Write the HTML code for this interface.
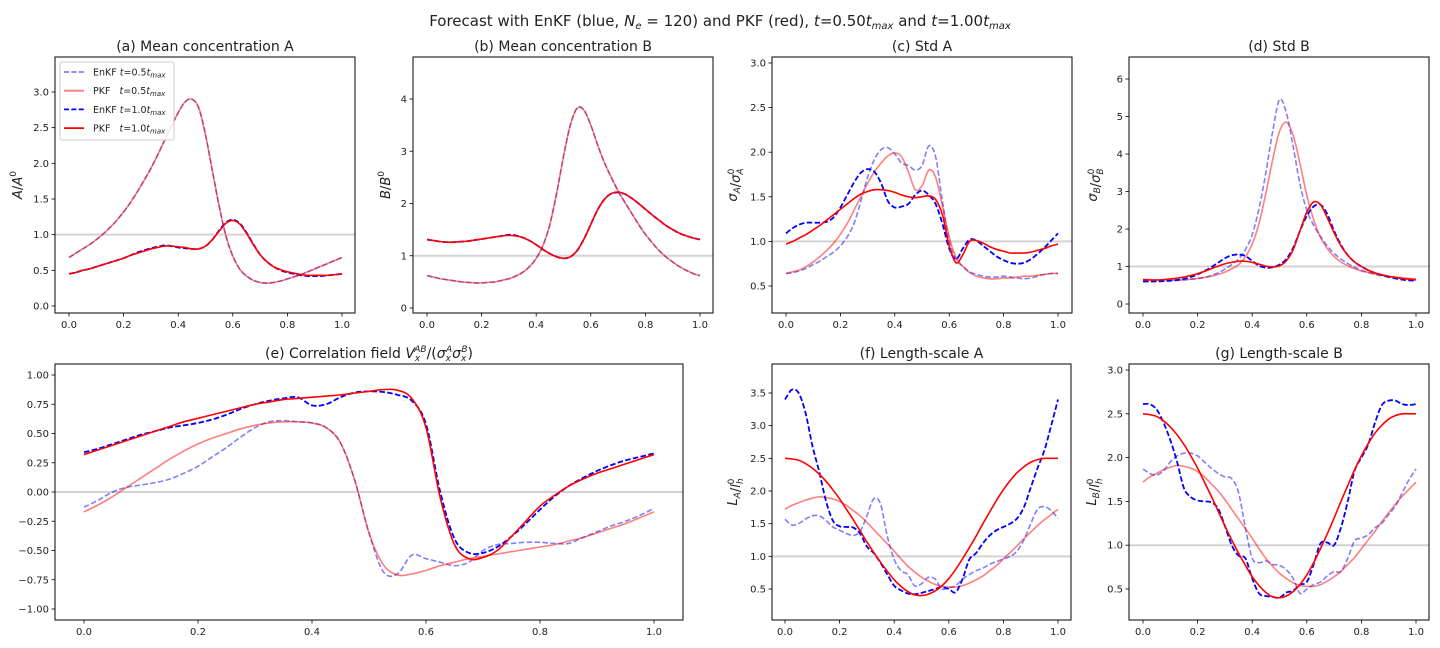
<!DOCTYPE html>
<html><head><meta charset="utf-8"><style>
html,body{margin:0;padding:0;background:#fff;width:1440px;height:648px;overflow:hidden}
svg text{font-family:"DejaVu Sans","Liberation Sans",sans-serif;fill:#222}
</style></head><body>
<svg id="fig" width="1440" height="648" viewBox="0 0 1440 648" xmlns="http://www.w3.org/2000/svg">
<rect width="1440" height="648" fill="#fff"/>
<text x="720" y="26" text-anchor="middle" font-size="15">Forecast with EnKF (blue, <tspan font-style="italic">N</tspan><tspan font-size="10" dy="3" font-style="italic">e</tspan><tspan dy="-3"> = 120) and PKF (red), </tspan><tspan font-style="italic">t</tspan>=0.50<tspan font-style="italic">t</tspan><tspan font-size="10" dy="3" font-style="italic">max</tspan><tspan dy="-3"> and </tspan><tspan font-style="italic">t</tspan>=1.00<tspan font-style="italic">t</tspan><tspan font-size="10" dy="3" font-style="italic">max</tspan></text>
</svg>
<script>
// shared x grid (0..1, step 0.025)
const X = Array.from({length:41},(_,i)=>i/40);

// (a) Mean concentration A
const aEnkf05=[.68,.74,.80,.86,.93,1.01,1.10,1.20,1.32,1.45,1.60,1.76,1.93,2.12,2.32,2.52,2.71,2.86,2.90,2.78,2.40,1.90,1.40,.98,.70,.52,.42,.36,.33,.32,.33,.35,.38,.41,.44,.48,.52,.56,.60,.64,.68];
const aPkf05=[.68,.74,.80,.86,.93,1.01,1.10,1.20,1.32,1.45,1.60,1.76,1.93,2.12,2.32,2.52,2.71,2.86,2.90,2.78,2.40,1.90,1.40,.98,.70,.52,.42,.36,.33,.32,.33,.35,.38,.41,.44,.48,.52,.56,.60,.64,.68];
const aEnkf10=[.45,.47,.50,.52,.55,.58,.61,.64,.67,.71,.75,.78,.81,.83,.85,.84,.82,.81,.80,.80,.84,.93,1.06,1.17,1.21,1.16,1.03,.87,.72,.62,.55,.50,.47,.45,.43,.42,.42,.42,.43,.44,.45];
const aPkf10=[.45,.47,.50,.52,.55,.58,.61,.64,.67,.71,.74,.77,.80,.82,.84,.84,.83,.82,.80,.80,.84,.93,1.05,1.16,1.20,1.15,1.02,.86,.72,.62,.55,.51,.48,.46,.44,.43,.43,.43,.43,.44,.45];
// (b) Mean concentration B
const bEnkf05=[.62,.59,.56,.54,.52,.50,.49,.48,.48,.49,.50,.53,.56,.61,.68,.79,.95,1.20,1.60,2.20,2.90,3.50,3.83,3.79,3.50,3.12,2.78,2.50,2.24,2.02,1.81,1.60,1.41,1.25,1.10,.98,.88,.79,.72,.66,.62];
const bPkf05=[.62,.59,.56,.54,.52,.50,.49,.48,.48,.49,.50,.53,.56,.61,.68,.79,.95,1.20,1.60,2.20,2.90,3.50,3.82,3.78,3.50,3.12,2.78,2.50,2.24,2.02,1.81,1.60,1.41,1.25,1.10,.98,.88,.79,.72,.66,.62];
const bEnkf10=[1.31,1.29,1.27,1.26,1.26,1.27,1.28,1.30,1.32,1.34,1.36,1.38,1.40,1.39,1.35,1.29,1.21,1.12,1.04,.98,.95,.98,1.10,1.32,1.60,1.88,2.08,2.19,2.21,2.18,2.10,2.00,1.89,1.78,1.68,1.58,1.50,1.43,1.38,1.34,1.31];
const bPkf10=[1.31,1.29,1.27,1.26,1.26,1.27,1.28,1.30,1.32,1.34,1.36,1.38,1.39,1.38,1.35,1.29,1.21,1.12,1.04,.98,.95,.98,1.10,1.32,1.60,1.88,2.08,2.19,2.22,2.18,2.10,2.00,1.89,1.78,1.68,1.58,1.50,1.43,1.38,1.34,1.31];
// (c) Std A
const cEnkf05=[.64,.65,.67,.70,.74,.78,.83,.88,.95,1.05,1.20,1.45,1.72,1.92,2.03,2.05,1.98,1.88,1.85,1.80,1.85,2.07,1.95,1.45,1.00,.80,.72,.66,.63,.61,.60,.60,.61,.60,.59,.58,.59,.61,.63,.64,.64];
const cPkf05=[.64,.66,.68,.72,.77,.83,.90,.98,1.08,1.20,1.35,1.50,1.65,1.78,1.88,1.96,1.99,1.95,1.78,1.58,1.62,1.80,1.72,1.40,1.05,.82,.72,.65,.61,.59,.58,.58,.59,.59,.60,.61,.61,.62,.63,.64,.64];
const cEnkf10=[1.09,1.15,1.19,1.21,1.21,1.21,1.22,1.27,1.38,1.52,1.66,1.77,1.81,1.78,1.65,1.45,1.38,1.39,1.42,1.52,1.57,1.52,1.42,1.20,.92,.80,.92,1.02,1.01,.95,.89,.83,.79,.76,.75,.76,.80,.86,.93,1.01,1.09];
const cPkf10=[.97,1.00,1.04,1.08,1.13,1.18,1.24,1.30,1.36,1.42,1.48,1.53,1.56,1.58,1.58,1.57,1.55,1.52,1.50,1.49,1.50,1.51,1.47,1.30,.95,.76,.85,1.00,1.01,.98,.94,.91,.89,.87,.87,.87,.88,.90,.92,.95,.97];
// (d) Std B
const dEnkf05=[.62,.61,.61,.61,.62,.63,.64,.66,.68,.71,.76,.83,.93,1.05,1.20,1.45,1.85,2.55,3.50,4.60,5.45,5.10,4.20,3.20,2.50,2.10,1.80,1.55,1.35,1.20,1.08,.98,.90,.84,.79,.75,.72,.70,.68,.67,.66];
const dPkf05=[.66,.65,.64,.64,.64,.64,.65,.66,.68,.71,.74,.79,.85,.94,1.05,1.25,1.60,2.15,2.95,3.85,4.60,4.85,4.50,3.75,2.90,2.25,1.78,1.48,1.27,1.12,1.02,.94,.88,.84,.80,.77,.74,.72,.70,.68,.67];
const dEnkf10=[.60,.60,.60,.61,.62,.64,.67,.72,.79,.88,.98,1.10,1.22,1.30,1.32,1.28,1.15,1.02,.97,.98,1.05,1.20,1.50,1.95,2.35,2.60,2.65,2.40,1.95,1.58,1.30,1.12,1.00,.90,.83,.77,.72,.68,.65,.63,.62];
const dPkf10=[.65,.64,.64,.65,.67,.69,.72,.76,.81,.87,.94,1.01,1.07,1.11,1.14,1.14,1.11,1.06,1.01,.99,1.02,1.15,1.45,1.95,2.45,2.72,2.65,2.30,1.90,1.55,1.30,1.12,1.00,.90,.83,.78,.74,.71,.68,.66,.64];
// (e) Correlation field
const eEnkf05=[-.13,-.07,0,.04,.06,.08,.11,.16,.22,.30,.38,.47,.55,.60,.61,.60,.59,.55,.42,.10,-.35,-.68,-.70,-.54,-.57,-.60,-.63,-.60,-.50,-.45,-.44,-.43,-.43,-.44,-.44,-.39,-.34,-.29,-.25,-.20,-.14];
const ePkf05=[-.17,-.11,-.04,.04,.12,.20,.28,.35,.41,.46,.50,.54,.57,.59,.60,.60,.59,.55,.42,.10,-.35,-.62,-.71,-.70,-.67,-.63,-.60,-.57,-.55,-.53,-.51,-.49,-.47,-.45,-.42,-.39,-.35,-.31,-.27,-.22,-.17];
const eEnkf10=[.34,.37,.41,.45,.49,.52,.55,.57,.59,.62,.66,.71,.75,.78,.80,.81,.74,.75,.81,.85,.86,.855,.83,.78,.58,0,-.40,-.52,-.52,-.47,-.38,-.27,-.15,-.04,.05,.12,.18,.23,.27,.30,.33];
const ePkf10=[.32,.36,.40,.44,.48,.52,.56,.60,.63,.66,.69,.72,.75,.77,.79,.80,.81,.82,.83,.845,.86,.875,.87,.80,.55,-.05,-.45,-.57,-.56,-.50,-.38,-.25,-.12,-.03,.05,.11,.16,.20,.24,.28,.32];
// (f) Length-scale A
const fEnkf05=[1.57,1.48,1.50,1.57,1.62,1.62,1.55,1.45,1.40,1.35,1.32,1.38,1.62,1.88,1.80,1.30,.95,.78,.72,.55,.58,.68,.65,.50,.52,.55,.65,.72,.78,.82,.88,.92,.96,1.00,1.08,1.25,1.50,1.72,1.76,1.70,1.58];
const fPkf05=[1.72,1.78,1.82,1.86,1.89,1.91,1.90,1.88,1.84,1.78,1.70,1.62,1.52,1.41,1.30,1.19,1.08,.96,.85,.76,.68,.62,.57,.54,.53,.53,.55,.59,.64,.70,.78,.86,.96,1.06,1.16,1.27,1.37,1.47,1.56,1.64,1.72];
const fEnkf10=[3.40,3.55,3.50,3.20,2.70,2.30,1.85,1.55,1.46,1.45,1.44,1.35,1.15,1.05,.90,.72,.55,.48,.43,.42,.44,.47,.50,.53,.50,.45,.65,.95,1.05,1.20,1.32,1.40,1.45,1.50,1.58,1.75,2.05,2.35,2.62,3.00,3.40];
const fPkf10=[2.50,2.49,2.47,2.42,2.35,2.26,2.15,2.02,1.88,1.72,1.56,1.39,1.22,1.06,.91,.77,.64,.54,.46,.41,.40,.42,.47,.55,.66,.80,.96,1.13,1.31,1.50,1.68,1.86,2.02,2.16,2.28,2.37,2.44,2.48,2.50,2.50,2.50];
// (g) Length-scale B
const gEnkf05=[1.87,1.82,1.80,1.85,1.95,2.02,2.05,2.05,2.02,1.95,1.88,1.82,1.78,1.76,1.60,1.20,.85,.80,.82,.78,.77,.72,.62,.45,.50,.55,.58,.65,.70,.70,.85,1.05,1.08,1.12,1.20,1.25,1.35,1.45,1.60,1.75,1.87];
const gPkf05=[1.72,1.78,1.82,1.86,1.89,1.91,1.90,1.88,1.84,1.78,1.70,1.62,1.52,1.41,1.30,1.19,1.08,.96,.85,.76,.68,.62,.57,.54,.53,.53,.55,.59,.64,.70,.78,.86,.96,1.06,1.16,1.27,1.37,1.47,1.56,1.64,1.72];
const gEnkf10=[2.61,2.61,2.55,2.40,2.20,1.95,1.65,1.55,1.51,1.50,1.49,1.42,1.22,1.00,.88,.85,.62,.45,.42,.41,.40,.46,.48,.55,.58,.78,1.02,1.03,1.00,1.20,1.50,1.85,2.00,2.15,2.40,2.60,2.65,2.65,2.61,2.60,2.61];
const gPkf10=[2.50,2.49,2.47,2.42,2.35,2.26,2.15,2.02,1.88,1.72,1.56,1.39,1.22,1.06,.91,.77,.64,.54,.46,.41,.40,.42,.47,.55,.66,.80,.96,1.13,1.31,1.50,1.68,1.86,2.02,2.16,2.28,2.37,2.44,2.48,2.50,2.50,2.50];

const xTicks=[0,0.2,0.4,0.6,0.8,1.0];
const xTickLabels=["0.0","0.2","0.4","0.6","0.8","1.0"];

const NS="http://www.w3.org/2000/svg";
const fig=document.getElementById('fig');
function mk(tag,attrs,parent){const e=document.createElementNS(NS,tag);for(const k in attrs)e.setAttribute(k,attrs[k]);(parent||fig).appendChild(e);return e;}

function smoothPath(pts){
  let d='M'+pts[0][0].toFixed(2)+','+pts[0][1].toFixed(2);
  for(let i=0;i<pts.length-1;i++){
    const p0=pts[Math.max(i-1,0)],p1=pts[i],p2=pts[i+1],p3=pts[Math.min(i+2,pts.length-1)];
    const c1=[p1[0]+(p2[0]-p0[0])/6,p1[1]+(p2[1]-p0[1])/6];
    const c2=[p2[0]-(p3[0]-p1[0])/6,p2[1]-(p3[1]-p1[1])/6];
    d+='C'+c1[0].toFixed(2)+','+c1[1].toFixed(2)+' '+c2[0].toFixed(2)+','+c2[1].toFixed(2)+' '+p2[0].toFixed(2)+','+p2[1].toFixed(2);
  }
  return d;
}

function panel(cfg){
  const g=mk('g',{});
  
  
  const {L,R,T,B,x0px,x1px,yA,yApx,yB,yBpx}=cfg;
  const sx=v=>x0px+(x1px-x0px)*v;
  const sy=v=>yApx+(yBpx-yApx)*(v-yA)/(yB-yA);
  const cp='cp-'+cfg.name;
  const defs=mk('defs',{},g);
  const clip=mk('clipPath',{id:cp},defs);
  mk('rect',{x:L,y:T,width:R-L,height:B-T},clip);
  const ref=mk('line',{x1:L,x2:R,y1:sy(cfg.ref),y2:sy(cfg.ref),stroke:'#d3d3d3','stroke-width':2},g);
  
  
  const styles=[
    {c:'#0000ff',o:0.5,w:1.6,dash:'5.5,2.4',n:'enkf-t05-line'},
    {c:'#ff0000',o:0.5,w:1.6,dash:null,n:'pkf-t05-line'},
    {c:'#0000ff',o:1,w:1.8,dash:'5.5,2.4',n:'enkf-t10-line'},
    {c:'#ff0000',o:1,w:1.6,dash:null,n:'pkf-t10-line'}];
  cfg.series.forEach((s,i)=>{
    const st=styles[i];
    const pts=X.map((x,j)=>[sx(x),sy(s[j])]);
    const a={d:smoothPath(pts),fill:'none',stroke:st.c,'stroke-opacity':st.o,'stroke-width':st.w,'clip-path':'url(#'+cp+')','stroke-linejoin':'round'};
    if(st.dash)a['stroke-dasharray']=st.dash;
    const p=mk('path',a,g);
    
    
  });
  const fr=mk('rect',{x:L,y:T,width:R-L,height:B-T,fill:'none',stroke:'#000','stroke-width':1},g);
  
  
  xTicks.forEach((v,i)=>{
    const x=sx(v);
    mk('line',{x1:x,x2:x,y1:B,y2:B+3.5,stroke:'#000','stroke-width':0.8},g);
    const t=mk('text',{x:x,y:B+15,'text-anchor':'middle','font-size':10},g);
    t.textContent=xTickLabels[i];
    
    
  });
  cfg.yTicks.forEach((v,i)=>{
    const y=sy(v);
    mk('line',{x1:L-3.5,x2:L,y1:y,y2:y,stroke:'#000','stroke-width':0.8},g);
    const t=mk('text',{x:L-6,y:y+3.5,'text-anchor':'end','font-size':10},g);
    t.textContent=cfg.yTickLabels[i];
    
    
  });
  const tt=mk('text',{x:(L+R)/2,y:T-6,'text-anchor':'middle','font-size':14},g);
  tt.innerHTML=cfg.title;
  
  
  if(cfg.ylabel){
    const yl=mk('text',{x:0,y:0,'text-anchor':'middle','font-size':13,transform:'translate('+cfg.ylx+','+((T+B)/2)+') rotate(-90)'},g);
    yl.innerHTML=cfg.ylabel;
    
    
  }
  return {g,sx,sy};
}
const sub=(s)=>'<tspan font-size="9" dy="3" font-style="italic">'+s+'</tspan><tspan dy="-3"></tspan>';
const sup=(s)=>'<tspan font-size="9" dy="-6">'+s+'</tspan><tspan dy="6"></tspan>';

panel({name:'panel-a',L:55,R:355,T:57,B:313,x0px:69,x1px:342,yA:0,yApx:306,yB:3,yBpx:92,ref:1,
  series:[aEnkf05,aPkf05,aEnkf10,aPkf10],yTicks:[0,.5,1,1.5,2,2.5,3],yTickLabels:["0.0","0.5","1.0","1.5","2.0","2.5","3.0"],
  title:'(a) Mean concentration A',ylabel:'<tspan font-style="italic">A</tspan>/<tspan font-style="italic">A</tspan>'+sup('0'),ylx:22});
panel({name:'panel-b',L:413,R:713,T:57,B:313,x0px:427,x1px:700,yA:0,yApx:308,yB:4,yBpx:99,ref:1,
  series:[bEnkf05,bPkf05,bEnkf10,bPkf10],yTicks:[0,1,2,3,4],yTickLabels:["0","1","2","3","4"],
  title:'(b) Mean concentration B',ylabel:'<tspan font-style="italic">B</tspan>/<tspan font-style="italic">B</tspan>'+sup('0'),ylx:390});
panel({name:'panel-c',L:772,R:1072,T:57,B:313,x0px:786,x1px:1058,yA:0.5,yApx:286,yB:3,yBpx:63,ref:1,
  series:[cEnkf05,cPkf05,cEnkf10,cPkf10],yTicks:[.5,1,1.5,2,2.5,3],yTickLabels:["0.5","1.0","1.5","2.0","2.5","3.0"],
  title:'(c) Std A',ylabel:'<tspan font-style="italic">σ</tspan>'+sub('A')+'/<tspan font-style="italic">σ</tspan>'+sub('A')+'<tspan font-size="9" dx="-6" dy="-9">0</tspan>',ylx:737});
panel({name:'panel-d',L:1129,R:1429,T:57,B:313,x0px:1143,x1px:1416,yA:0,yApx:304,yB:6,yBpx:79,ref:1,
  series:[dEnkf05,dPkf05,dEnkf10,dPkf10],yTicks:[0,1,2,3,4,5,6],yTickLabels:["0","1","2","3","4","5","6"],
  title:'(d) Std B',ylabel:'<tspan font-style="italic">σ</tspan>'+sub('B')+'/<tspan font-style="italic">σ</tspan>'+sub('B')+'<tspan font-size="9" dx="-6" dy="-9">0</tspan>',ylx:1097});
panel({name:'panel-e',L:55,R:683,T:364,B:620,x0px:84,x1px:654,yA:-1,yApx:609,yB:1,yBpx:375,ref:0,
  series:[eEnkf05,ePkf05,eEnkf10,ePkf10],yTicks:[-1,-.75,-.5,-.25,0,.25,.5,.75,1],
  yTickLabels:["−1.00","−0.75","−0.50","−0.25","0.00","0.25","0.50","0.75","1.00"],
  title:'(e) Correlation field <tspan font-style="italic">V</tspan><tspan font-size="9" dy="3" font-style="italic">x</tspan><tspan font-size="9" dx="-6" dy="-9" font-style="italic">AB</tspan><tspan dy="6">/(</tspan><tspan font-style="italic">σ</tspan><tspan font-size="9" dy="3" font-style="italic">x</tspan><tspan font-size="9" dx="-5" dy="-9" font-style="italic">A</tspan><tspan dy="6" font-style="italic">σ</tspan><tspan font-size="9" dy="3" font-style="italic">x</tspan><tspan font-size="9" dx="-5" dy="-9" font-style="italic">B</tspan><tspan dy="6">)</tspan>'});
panel({name:'panel-f',L:772,R:1071,T:364,B:620,x0px:785,x1px:1058,yA:0.5,yApx:589,yB:3.5,yBpx:393,ref:1,
  series:[fEnkf05,fPkf05,fEnkf10,fPkf10],yTicks:[.5,1,1.5,2,2.5,3,3.5],yTickLabels:["0.5","1.0","1.5","2.0","2.5","3.0","3.5"],
  title:'(f) Length-scale A',ylabel:'<tspan font-style="italic">L</tspan>'+sub('A')+'/<tspan font-style="italic">l</tspan>'+sub('h')+'<tspan font-size="9" dx="-6" dy="-9">0</tspan>',ylx:737});
panel({name:'panel-g',L:1129,R:1429,T:364,B:620,x0px:1143,x1px:1416,yA:0.5,yApx:589,yB:3,yBpx:370,ref:1,
  series:[gEnkf05,gPkf05,gEnkf10,gPkf10],yTicks:[.5,1,1.5,2,2.5,3],yTickLabels:["0.5","1.0","1.5","2.0","2.5","3.0"],
  title:'(g) Length-scale B',ylabel:'<tspan font-style="italic">L</tspan>'+sub('B')+'/<tspan font-style="italic">l</tspan>'+sub('h')+'<tspan font-size="9" dx="-6" dy="-9">0</tspan>',ylx:1096});

// legend in panel (a)
const lg=mk('g',{});


mk('rect',{x:60,y:62,width:114,height:78,rx:2,fill:'#fff','fill-opacity':0.85,stroke:'#ccc','stroke-width':1},lg);
const legT=['0.5','0.5','1.0','1.0'];
const legStyle=[['#0000ff',0.5,'5,2.4'],['#ff0000',0.5,null],['#0000ff',1,'5,2.4'],['#ff0000',1,null]];
for(let i=0;i<4;i++){
  const y=72+i*18.7;
  const it=mk('g',{},lg);
  
  
  const a={x1:64,x2:84,y1:y,y2:y,stroke:legStyle[i][0],'stroke-opacity':legStyle[i][1],'stroke-width':1.8};
  if(legStyle[i][2])a['stroke-dasharray']=legStyle[i][2];
  mk('line',a,it);
  const t=mk('text',{x:93,y:y+3.5,'font-size':9.5},it);
  t.innerHTML=(i%2?'PKF&#160;&#160;&#160;':'EnKF ')+'<tspan font-style="italic">t</tspan>='+legT[i]+'<tspan font-style="italic">t</tspan><tspan font-size="7" dy="2" font-style="italic">max</tspan>';
}
</script>
</body></html>
